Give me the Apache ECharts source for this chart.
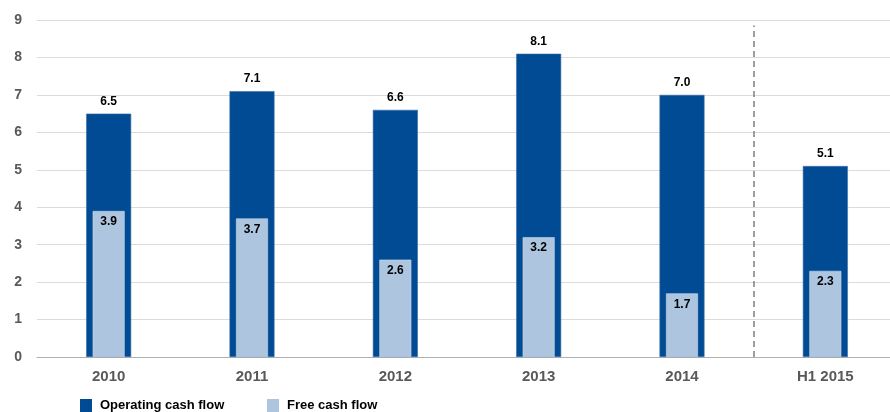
<!DOCTYPE html>
<html>
<head>
<meta charset="utf-8">
<script src="https://cdn.jsdelivr.net/npm/echarts@6/dist/echarts.min.js"></script>
<style>
  html, body { margin: 0; padding: 0; background: #fff; overflow: hidden; }
  /* the plot runs slightly past the right edge of the window */
  #chart { width: 897px; height: 412px; }
</style>
</head>
<body>
<div id="chart"></div>
<script>
// Periods shown on the category axis
const periods = ['2010', '2011', '2012', '2013', '2014', 'H1 2015'];
// Cash flow figures (billions)
const operatingCashFlow = [6.5, 7.1, 6.6, 8.1, 7.0, 5.1];
const freeCashFlow = [3.9, 3.7, 2.6, 3.2, 1.7, 2.3];
// Value-axis ticks
const yTicks = { min: 0, max: 9, interval: 1 };
// Separator between full-year and half-year figures (in category-band units)
const separatorAt = 5;

const FONT = '"Liberation Sans", Arial, sans-serif';
const DARK = '#004b93';
const LIGHT = '#adc5de';

const chart = echarts.init(document.getElementById('chart'), null, { renderer: 'canvas' });

const legendText = { fontFamily: FONT, fontWeight: 'bold', fontSize: 13, color: '#000', padding: [0, 0, 0, 3] };

chart.setOption({
  animation: false,
  backgroundColor: '#ffffff',
  grid: { left: 37, top: 20, right: 0, bottom: 55, containLabel: false },
  legend: [
    {
      data: ['Operating cash flow'],
      left: 80, top: 399, padding: 0,
      itemWidth: 12, itemHeight: 13, icon: 'rect',
      itemStyle: { borderWidth: 0 },
      textStyle: legendText
    },
    {
      data: ['Free cash flow'],
      left: 267, top: 399, padding: 0,
      itemWidth: 12, itemHeight: 13, icon: 'rect',
      itemStyle: { borderWidth: 0 },
      textStyle: legendText
    }
  ],
  xAxis: [
    {
      type: 'category',
      data: periods,
      axisTick: { show: false },
      axisLine: { lineStyle: { color: '#b0b0b0', width: 1 } },
      axisLabel: { fontFamily: FONT, fontWeight: 'bold', fontSize: 15, color: '#595959', margin: 12 }
    },
    {
      type: 'category',
      data: periods,
      show: false
    },
    {
      type: 'value',
      min: 0, max: periods.length,
      show: false
    }
  ],
  yAxis: {
    type: 'value',
    min: yTicks.min, max: yTicks.max, interval: yTicks.interval,
    axisLine: { show: false },
    axisTick: { show: false },
    splitLine: { lineStyle: { color: '#dcdcdc', width: 1 } },
    axisLabel: { fontFamily: FONT, fontWeight: 'bold', fontSize: 14, color: '#595959', margin: 15 }
  },
  series: [
    {
      name: 'Operating cash flow',
      type: 'bar',
      xAxisIndex: 0,
      data: operatingCashFlow,
      barWidth: 45,
      itemStyle: { color: DARK, borderColor: '#3a6fa8', borderWidth: 0.6 },
      label: {
        show: true, position: 'top', distance: 6,
        formatter: p => p.value.toFixed(1),
        fontFamily: FONT, fontWeight: 'bold', fontSize: 12, color: '#000'
      },
      z: 2
    },
    {
      name: 'Free cash flow',
      type: 'bar',
      xAxisIndex: 1,
      data: freeCashFlow,
      barWidth: 32,
      itemStyle: { color: LIGHT, borderColor: '#c6d6e8', borderWidth: 0.6 },
      label: {
        show: true, position: 'insideTop', distance: 5,
        formatter: p => p.value.toFixed(1),
        fontFamily: FONT, fontWeight: 'bold', fontSize: 12, color: '#000'
      },
      z: 3
    },
    {
      name: 'separator',
      type: 'line',
      xAxisIndex: 2,
      data: [],
      silent: true,
      markLine: {
        symbol: 'none',
        silent: true,
        label: { show: false },
        lineStyle: { color: '#7f7f7f', type: [6, 4], width: 1.5 },
        data: [[{ coord: [separatorAt, 0] }, { coord: [separatorAt, 8.85] }]]
      }
    }
  ]
});
</script>
</body>
</html>
